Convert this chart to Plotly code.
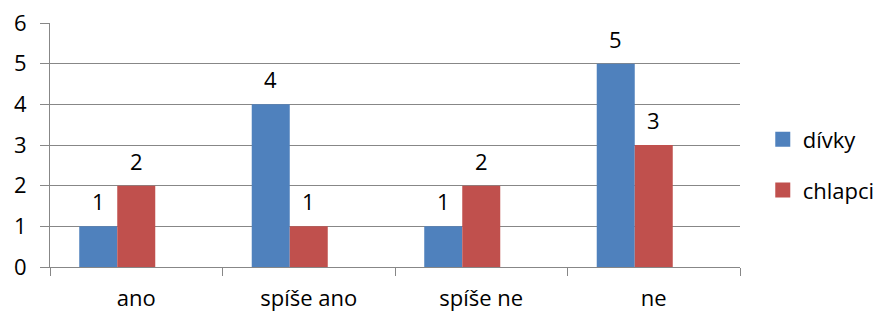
import plotly.graph_objects as go

categories = ["ano", "spíše ano", "spíše ne", "ne"]
divky = [1, 4, 1, 5]
chlapci = [2, 1, 2, 3]
empty_series = [None, None, None, None]
y_ticks = [0, 1, 2, 3, 4, 5, 6]

BLUE = "#4F81BD"
RED = "#C0504D"
GRID = "#878787"
FONT = "Open Sans"
FS = 22

# page body has an 8px default margin; figure sized to fit inside it
W, H = 869, 305
ML, MR, MT, MB = 42, 137, 15, 46
BARGAP = 0.339
plot_w = W - ML - MR
bar_px = plot_w / len(categories) * (1 - BARGAP) / 3

fig = go.Figure()
fig.add_trace(go.Bar(x=categories, y=divky, name="dívky", showlegend=False,
                     marker=dict(color=BLUE, line=dict(width=0))))
fig.add_trace(go.Bar(x=categories, y=chlapci, name="chlapci", showlegend=False,
                     marker=dict(color=RED, line=dict(width=0))))
fig.add_trace(go.Bar(x=categories, y=empty_series, name="", showlegend=False,
                     hoverinfo="skip", marker=dict(line=dict(width=0))))

# legend-only entries with larger square swatches
fig.add_trace(go.Scatter(x=[None], y=[None], mode="markers", name="dívky", legendgroup="a",
                         marker=dict(symbol="square", size=15, color=BLUE)))
fig.add_trace(go.Scatter(x=[None], y=[None], mode="markers", name="chlapci", legendgroup="b",
                         marker=dict(symbol="square", size=15, color=RED)))

annotations = []
for c, v in zip(categories, divky):
    annotations.append(dict(x=c, y=v, xref="x", yref="y", text=str(v), showarrow=False,
                            xshift=-bar_px, yshift=25, yanchor="middle",
                            font=dict(family=FONT, size=FS, color="#000")))
for c, v in zip(categories, chlapci):
    annotations.append(dict(x=c, y=v, xref="x", yref="y", text=str(v), showarrow=False,
                            xshift=0, yshift=25, yanchor="middle",
                            font=dict(family=FONT, size=FS, color="#000")))

fig.update_layout(
    width=W, height=H,
    margin=dict(l=ML, r=MR, t=MT, b=MB, autoexpand=False),
    paper_bgcolor="white", plot_bgcolor="white",
    barmode="group", bargap=BARGAP, bargroupgap=0,
    font=dict(family=FONT, size=FS, color="#000"),
    showlegend=True,
    legend=dict(x=1.033, xanchor="left", y=0.418, yanchor="middle",
                tracegroupgap=19, font=dict(family=FONT, size=FS),
                bgcolor="rgba(0,0,0,0)"),
    annotations=annotations,
)
fig.update_xaxes(type="category", tickson="boundaries", ticks="outside", ticklen=8,
                 tickcolor=GRID, showline=True, linecolor=GRID, linewidth=1,
                 showgrid=False, ticklabelstandoff=12, automargin=False,
                 ticklabeloverflow="allow")
fig.update_yaxes(range=[0, 6], tickvals=y_ticks, ticks="outside", ticklen=9,
                 tickcolor=GRID, showline=True, linecolor=GRID, linewidth=1,
                 showgrid=True, gridcolor=GRID, gridwidth=1, zeroline=False,
                 ticklabelstandoff=9, automargin=False, ticklabeloverflow="allow")

fig.write_html("out.html")
